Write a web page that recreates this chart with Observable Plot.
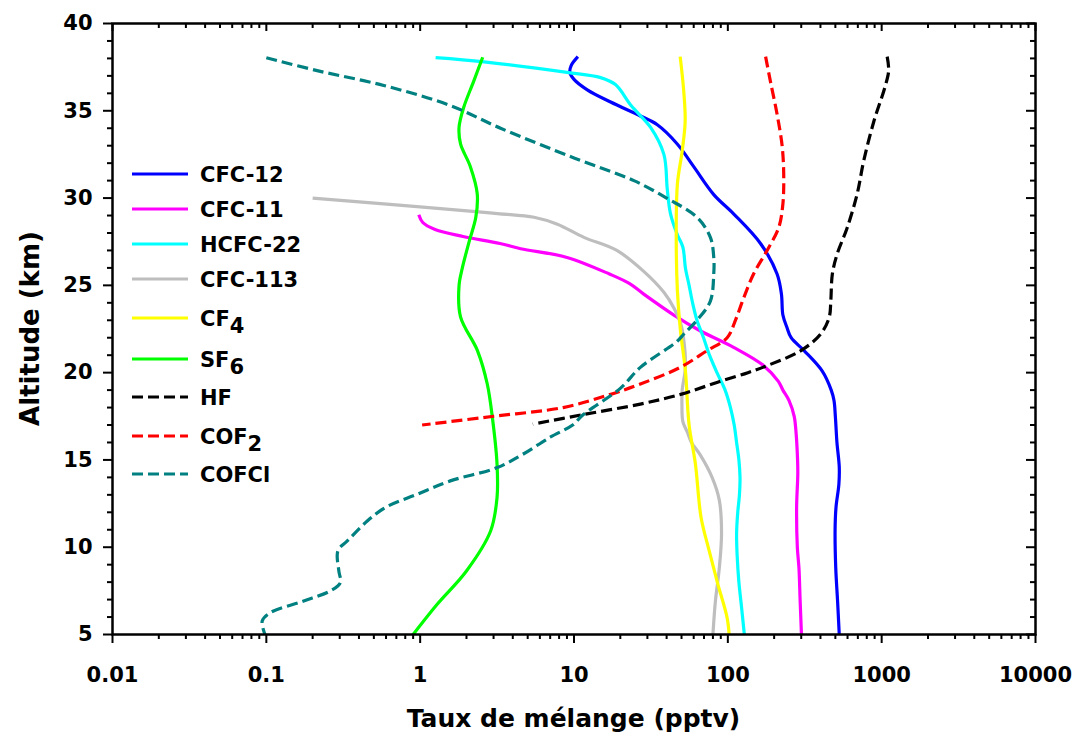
<!DOCTYPE html>
<html><head><meta charset="utf-8">
<script src="https://cdn.jsdelivr.net/npm/d3@7"></script>
<script src="https://cdn.jsdelivr.net/npm/@observablehq/plot@0.6"></script>
<style>html,body{margin:0;padding:0;background:#fff;}</style>
</head><body><div id="chart"></div>
<script>
// ---------- data ----------
const seriesNames = ["CFC-12","CFC-11","HCFC-22","CFC-113","CF4","SF6","HF","COF2","COFCl"];
const seriesColors = ["#0000ff","#ff00ff","#00ffff","#bebebe","#ffff00","#00ff00","#000000","#ff0000","#008080"];
const seriesDashed = [false,false,false,false,false,false,true,true,true];
const legendMain = ["CFC-12","CFC-11","HCFC-22","CFC-113","CF","SF","HF","COF","COFCl"];
const legendSub  = ["","","","","4","6","","2",""];
const xTickValues = [0.01,0.1,1,10,100,1000,10000];
const xTickLabels = ["0.01","0.1","1","10","100","1000","10000"];
const yTickValues = [5,10,15,20,25,30,35,40];
const yTickLabels = ["5","10","15","20","25","30","35","40"];
const xTitle = "Taux de mélange (pptv)";
const yTitle = "Altitude (km)";

// profiles: [altitude (km), mixing ratio (pptv)]
const cfc12 = [[38.1,10.6],[37.6,9.6],[37.2,9.4],[36.8,10.0],[36.2,12.2],[35.5,17.3],[34.7,27],[34.2,34.8],[33.1,46.9],[31.8,60],[30.2,81],[29.1,109],[27.4,163],[25.65,209],[24.5,223],[23.3,228],[22.6,242],[22.0,258],[21.25,314],[20.1,410],[19.0,470],[18.4,490],[17.5,500],[16.0,512],[14.6,530],[13.6,527],[12.3,505],[11.0,498],[8.8,503],[6.9,517],[5,530]];
const cfc11 = [[29.05,0.98],[28.6,1.04],[28.2,1.25],[27.8,1.9],[27.4,3.3],[27.1,4.5],[26.6,9.0],[25.65,17],[25.1,23],[24.5,28.4],[23.3,44.6],[22.4,66],[21.45,109],[20.4,171],[19.5,213],[19.0,228],[18.4,250],[17.5,270],[16.5,278],[15.0,284],[14.2,285],[12.3,280],[10.0,283],[8.8,290],[7.0,295],[5,301]];
const hcfc22 = [[38.04,1.26],[37.8,2.6],[37.2,9.0],[36.9,14.9],[36.5,18.6],[35.3,23.5],[34.06,31.4],[32.5,38.4],[30.5,40.4],[29.1,42.4],[27.9,47],[27.2,51],[26.0,53],[25.0,56],[24.0,59],[23.0,63],[22.0,69.5],[21.0,76],[20.0,85],[19.0,96],[18.0,104],[17.0,110],[16.0,114],[15.0,118],[14.0,120],[13.0,119],[12.0,116],[10.8,114],[9.5,115],[8.0,118],[6.5,123],[5,128]];
const cfc113 = [[30.0,0.2],[29.67,0.58],[29.24,2.2],[29.1,3.3],[28.9,5.5],[28.5,7.8],[27.75,11.6],[27.0,19],[25.8,28.4],[24.6,38.4],[23.7,44.6],[22.8,49.4],[22.0,51.5],[20.3,53],[19.0,50.5],[18.2,50.3],[17.2,51],[16.6,54.5],[16.0,58],[15.3,66],[14.0,79],[12.7,88],[10.8,91],[8.8,88],[6.9,83],[5,80]];
const cf4 = [[38.1,49],[36.2,51.6],[34.4,52.8],[32.7,50.5],[30.8,47],[27.6,46.2],[24.7,47],[22.4,49.2],[20.1,53],[17.0,56],[14.8,61.5],[11.7,67],[9.8,75.6],[7.9,86],[6.0,98.7],[5,102]];
const sf6 = [[38.07,2.55],[36.7,2.23],[35.2,1.92],[34.06,1.79],[33.1,1.83],[31.8,2.12],[30.24,2.35],[28.9,2.3],[27.56,2.09],[26.0,1.88],[25.0,1.79],[23.2,1.83],[21.25,2.36],[19.35,2.73],[17.4,2.95],[14.76,3.16],[12.84,3.16],[10.93,2.87],[8.64,2.0],[6.73,1.29],[5,0.9]];
const hf = [[38.1,1086],[37.3,1110],[36.35,1050],[34.4,890],[32.15,765],[30.24,693],[28.3,597],[26.8,514],[25.65,478],[24.1,467],[23.17,456],[22.2,400],[21.25,297],[20.4,180],[20.0,135],[19.44,85],[18.77,50],[18.2,27],[17.6,11.5],[17.05,5.4]];
const cof2 = [[38.1,176],[36.7,189],[34.8,209],[32.9,226],[31.0,231],[29.5,227],[28.3,214],[27.0,180],[25.65,147],[24.3,127],[23.0,112],[22.0,99],[21.25,73],[20.3,49],[19.35,27],[18.7,16.5],[18.0,8.5],[17.5,3.0],[17.0,1.03]];
const cofcl = [[38.04,0.1],[37.3,0.214],[36.45,0.58],[35.3,1.57],[34.0,3.33],[32.3,10],[31.0,24.5],[30.0,40],[28.9,63],[27.75,77],[26.6,81],[25.65,81],[24.1,77],[23.0,63],[22.2,51.6],[21.8,46.9],[20.3,27],[19.1,20],[17.6,11.5],[17.0,9.8],[16.3,7.0],[15.3,4.6],[14.56,3.17],[13.8,1.57],[13.04,0.96],[12.3,0.6],[11.5,0.453],[10.36,0.336],[9.8,0.292],[8.64,0.296],[7.97,0.303],[7.5,0.261],[6.92,0.175],[6.25,0.106],[5.77,0.094],[5,0.098]];
const profiles = [cfc12, cfc11, hcfc22, cfc113, cf4, sf6, hf, cof2, cofcl];

// ---------- layout ----------
const W = 1076, H = 736;
const mL = 112, mR = 41, mT = 23, mB = 102;
const frameW = W - mL - mR, frameH = H - mT - mB;
const FONT = "'DejaVu Sans', sans-serif";
const DASH = "11,5";

const xMinor = [];
for (let e = -2; e < 4; e++) for (let m = 2; m < 10; m++) xMinor.push(+(m * Math.pow(10, e)).toPrecision(3));
const yMinor = d3.range(5, 41).filter(d => d % 5 !== 0);
const xLabelOf = new Map(xTickValues.map((v, i) => [v, xTickLabels[i]]));
const yLabelOf = new Map(yTickValues.map((v, i) => [v, yTickLabels[i]]));

const lineMarks = profiles.map((p, i) => Plot.line(
  p.map(([alt, val]) => ({alt, val})),
  {x: "val", y: "alt", stroke: seriesColors[i], strokeWidth: 3.2,
   strokeDasharray: seriesDashed[i] ? DASH : undefined,
   strokeLinecap: "butt", curve: "catmull-rom"}
));

const chart = Plot.plot({
  width: W, height: H,
  marginLeft: mL, marginRight: mR, marginTop: mT, marginBottom: mB,
  style: {fontFamily: FONT, fontSize: "21px", fontWeight: "bold", color: "black", background: "white"},
  x: {type: "log", domain: [0.01, 10000]},
  y: {domain: [5, 40]},
  marks: [
    ...lineMarks,
    Plot.axisX(xTickValues, {anchor: "bottom", tickSize: 9, tickPadding: 24, strokeWidth: 2, tickFormat: d => xLabelOf.get(d), label: null}),
    Plot.axisX(xMinor, {anchor: "bottom", tickSize: 5, strokeWidth: 2, tickFormat: () => "", label: null}),
    Plot.axisY(yTickValues, {anchor: "left", tickSize: 9, tickPadding: 11, strokeWidth: 2, tickFormat: d => yLabelOf.get(d), label: null}),
    Plot.axisY(yMinor, {anchor: "left", tickSize: 5, strokeWidth: 2, tickFormat: () => "", label: null}),
    Plot.tickX(xTickValues, {x: d => d, insetBottom: frameH - 8, stroke: "black", strokeWidth: 2}),
    Plot.tickX(xMinor, {x: d => d, insetBottom: frameH - 5, stroke: "black", strokeWidth: 2}),
    Plot.tickY(yTickValues, {y: d => d, insetLeft: frameW - 9, stroke: "black", strokeWidth: 2}),
    Plot.tickY(yMinor, {y: d => d, insetLeft: frameW - 5, stroke: "black", strokeWidth: 2}),
    Plot.frame({stroke: "black", strokeWidth: 2.5})
  ]
});
document.getElementById("chart").appendChild(chart);

// ---------- titles & legend ----------
const svg = d3.select(chart);
svg.append("text")
  .attr("x", mL + frameW / 2).attr("y", 727)
  .attr("text-anchor", "middle")
  .style("font", `bold 25px ${FONT}`).attr("fill", "black")
  .text(xTitle);
svg.append("text")
  .attr("transform", `translate(39,${mT + frameH / 2}) rotate(-90)`)
  .attr("text-anchor", "middle")
  .style("font", `bold 26px ${FONT}`).attr("fill", "black")
  .text(yTitle);

const legendRowY = [174, 209, 244, 279, 318, 359, 397, 436, 474];
const lg = svg.append("g").attr("text-anchor", "start");
seriesNames.forEach((name, i) => {
  const y = legendRowY[i];
  lg.append("line")
    .attr("x1", 132).attr("x2", 188).attr("y1", y).attr("y2", y)
    .attr("stroke", seriesColors[i]).attr("stroke-width", 3.2)
    .attr("stroke-dasharray", seriesDashed[i] ? DASH : null);
  const t = lg.append("text")
    .attr("x", 200).attr("y", y).attr("dy", "0.36em")
    .attr("text-anchor", "start")
    .style("font", `bold 21px ${FONT}`).attr("fill", "black");
  t.append("tspan").text(legendMain[i]);
  if (legendSub[i]) t.append("tspan").attr("dy", "0.35em").text(legendSub[i]);
});
</script></body></html>
